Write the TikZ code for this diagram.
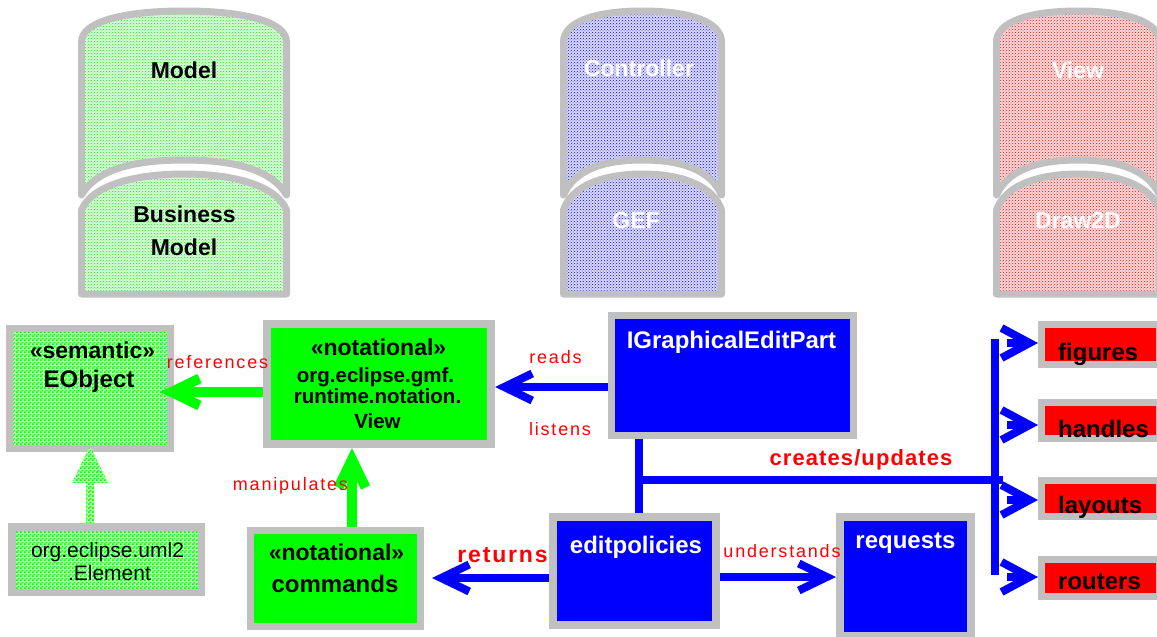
\documentclass[tikz,border=0pt]{standalone}
\usepackage{fontspec}
\setmainfont{Liberation Sans}
\newfontfamily\spacedthin[LetterSpace=10]{Liberation Sans}
\newfontfamily\spacedbold[LetterSpace=8]{Liberation Sans}
\newfontfamily\spacedboldb[LetterSpace=5]{Liberation Sans}
\usetikzlibrary{arrows.meta,patterns,calc}
\definecolor{cgray}{HTML}{C0C0C0}
\definecolor{pblue}{HTML}{0000FF}
\definecolor{pgreen}{HTML}{00FF00}
\definecolor{pred}{HTML}{FF0000}
\pgfdeclarepatternformonly{chkpat}{\pgfpointorigin}{\pgfpoint{4pt}{4pt}}{\pgfpoint{4pt}{4pt}}{%
  \pgfpathrectangle{\pgfpointorigin}{\pgfpoint{2pt}{2pt}}%
  \pgfpathrectangle{\pgfpoint{2pt}{2pt}}{\pgfpoint{2pt}{2pt}}%
  \pgfusepath{fill}}
\newcommand\cylshape[3]{%
  \begin{scope}[xshift=#1pt, x=#2pt]
    \draw[cylborder,#3] (0,195) -- (0,42) .. controls (0,22) and (0.2,11) .. (0.5,11)
      .. controls (0.8,11) and (1,22) .. (1,42) -- (1,195)
      .. controls (0.93,170) and (0.75,160) .. (0.5,160)
      .. controls (0.25,160) and (0.07,170) .. cycle;
    \draw[cylborder,#3] (0,294) -- (0,210) .. controls (0.05,186) and (0.25,174) .. (0.5,174)
      .. controls (0.75,174) and (0.95,186) .. (1,210) -- (1,294) -- cycle;
  \end{scope}}
\begin{document}
\begin{tikzpicture}[x=1pt,y=-1pt,
  cylborder/.style={draw=cgray, line width=7pt, line join=round},
  cylg/.style={preaction={fill=pgreen!14}, pattern=crosshatch dots, pattern color=pgreen},
  cylb/.style={preaction={fill=pblue!14}, pattern=crosshatch dots, pattern color=pblue},
  cylr/.style={preaction={fill=pred!14}, pattern=crosshatch dots, pattern color=pred},
  chk/.style={preaction={fill=pgreen!30}, pattern=chkpat, pattern color=pgreen},
  boxst/.style={draw=cgray, line width=#1, inner sep=0pt},
  bl/.style={font=\bfseries\fontsize{24}{28}\selectfont, inner sep=0pt, anchor=base},
  blc/.style={font=\bfseries\fontsize{23}{28}\selectfont, inner sep=0pt, anchor=base},
  bls/.style={font=\bfseries\fontsize{20.5}{24}\selectfont, inner sep=0pt, anchor=base},
  rl/.style={font=\fontsize{21}{24}\selectfont, inner sep=0pt, anchor=base},
  redthin/.style={font=\spacedthin\fontsize{18}{20}\selectfont, text=pred, inner sep=0pt, anchor=base},
  redbold/.style={font=\spacedbold\bfseries\fontsize{23}{26}\selectfont, text=pred, inner sep=0pt, anchor=base},
  redboldb/.style={font=\spacedboldb\bfseries\fontsize{22}{26}\selectfont, text=pred, inner sep=0pt, anchor=base},
  barrow/.style={draw=pblue, line width=8pt, -{Straight Barb[length=28pt,width=27pt]}},
  barrowr/.style={draw=pblue, line width=8pt, -{Straight Barb[length=28pt,width=30pt]}},
  garrow/.style={draw=pgreen, line width=10pt, -{Straight Barb[length=28pt,width=27pt]}},
  bline/.style={draw=pblue, line width=8pt}
]
\useasboundingbox (0,0) rectangle (1157,637);
\clip (0,0) rectangle (1157,637);

% cylinders
\cylshape{81.5}{205}{cylg}
\cylshape{563.5}{158}{cylb}
\cylshape{996.5}{163}{cylr}
\node[blc] (mdl1) at (184,78) {Model};
\node[blc] (bus1) at (184.5,222) {Business};
\node[blc] (mdl2) at (184,255) {Model};
\node[blc, text=white] (ctrl) at (639,76) {Controller};
\node[blc, text=white] (gef) at (636,228) {GEF};
\node[blc, text=white] (view) at (1078,78) {View};
\node[blc, text=white] (d2d) at (1078,228) {Draw2D};

% boxes
\node[boxst=7pt, chk, minimum width=161pt, minimum height=120pt] (eobj) at (90,388.5) {};
\node[boxst=8pt, fill=pgreen, minimum width=224pt, minimum height=120pt] (nview) at (379,384) {};
\node[boxst=7pt, fill=pblue, minimum width=242pt, minimum height=120pt] (igep) at (732.5,375.5) {};
\node[boxst=7.5pt, chk, minimum width=189.5pt, minimum height=65.5pt] (elem) at (106.5,559.5) {};
\node[boxst=7pt, fill=pgreen, minimum width=170pt, minimum height=96pt] (cmds) at (335.5,578.5) {};
\node[boxst=8pt, fill=pblue, minimum width=163pt, minimum height=108pt] (editp) at (634.5,571) {};
\node[boxst=8pt, fill=pblue, minimum width=131pt, minimum height=119pt] (req) at (905.5,576.5) {};
\node[boxst=7pt, fill=pred, minimum width=118pt, minimum height=40pt] (fig) at (1100.5,344.5) {};
\node[boxst=7pt, fill=pred, minimum width=118pt, minimum height=36pt] (hnd) at (1100.5,420.5) {};
\node[boxst=7pt, fill=pred, minimum width=118pt, minimum height=36pt] (lay) at (1100.5,498.5) {};
\node[boxst=7pt, fill=pred, minimum width=118pt, minimum height=37pt] (rout) at (1100.5,578) {};

% box texts
\node[blc] (t1) at (92.5,358) {«semantic»};
\node[bl] (t2) at (89,387) {EObject};
\node[blc] (t3) at (378.5,355) {«notational»};
\node[bls] (t4) at (375.5,382) {org.eclipse.gmf.};
\node[bls] (t5) at (377.5,403) {runtime.notation.};
\node[bls] (t6) at (377.5,428) {View};
\node[bl, text=white] (t7) at (731.5,348) {IGraphicalEditPart};
\node[rl] (t8) at (107.5,557) {org.eclipse.uml2};
\node[rl] (t9) at (109.5,580) {.Element};
\node[blc] (t10) at (336.5,560) {«notational»};
\node[bl] (t11) at (335,592) {commands};
\node[bl, text=white] (t12) at (636,553) {editpolicies};
\node[bl, text=white] (t13) at (905.5,548) {requests};
\node[bl, anchor=base west] (t14) at (1058,360) {figures};
\node[bl, anchor=base west] (t15) at (1058,437) {handles};
\node[bl, anchor=base west] (t16) at (1058,513) {layouts};
\node[bl, anchor=base west] (t17) at (1058,589) {routers};

% connectors
\coordinate (yreads) at (0,387);
\draw[barrow] (igep.west |- yreads) -- (nview.east |- yreads);
\coordinate (reftip) at (160,392);
\draw[garrow] (nview.west |- reftip) -- (reftip);
\coordinate (xman) at (352,0);
\draw[garrow] (xman |- cmds.north) -- (xman |- nview.south);
\coordinate (yret) at (0,578);
\coordinate (rettip) at (432,578);
\draw[barrow] (editp.west |- yret) -- (rettip);
\coordinate (yund) at (0,577);
\draw[barrow] (editp.east |- yund) -- (req.west |- yund);
\coordinate (xv) at (639,0);
\draw[bline] (xv |- igep.south) -- (xv |- editp.north);
\coordinate (hstart) at (639,480);
\coordinate (hend) at (1003,480);
\draw[bline] (hstart) -- (hend);
\coordinate (busT) at (995,339);
\coordinate (busB) at (995,575);
\draw[bline] (busT) -- (busB);
\coordinate (a1) at (1007,343);
\coordinate (a2) at (1007,425);
\coordinate (a3) at (1007,500);
\coordinate (a4) at (1007,577);
\draw[barrowr] (a1) -- (fig.west |- a1);
\draw[barrowr] (a2) -- (hnd.west |- a2);
\draw[barrowr] (a3) -- (lay.west |- a3);
\draw[barrowr] (a4) -- (rout.west |- a4);

% checkered generalisation arrow
\coordinate (ea) at (eobj.south |- elem.north);
\coordinate (etip) at ($(eobj.south)+(0,-6)$);
\path[chk] ($(ea)+(-4,0)$) -- ($(ea)+(-4,-40)$) -- ($(ea)+(-18,-40)$) -- (etip)
  -- ($(ea)+(18,-40)$) -- ($(ea)+(4,-40)$) -- ($(ea)+(4,0)$) -- cycle;

% connector labels
\node[redthin] (l1) at (217.5,368) {references};
\node[redthin] (l2) at (555.5,363) {reads};
\node[redthin] (l3) at (560,435) {listens};
\node[redthin] (l4) at (290.5,490) {manipulates};
\node[redthin] (l5) at (782,557) {understands};
\node[redbold] (l6) at (502.5,562) {returns};
\node[redboldb] (l7) at (861,465) {creates/updates};
\end{tikzpicture}
\end{document}
